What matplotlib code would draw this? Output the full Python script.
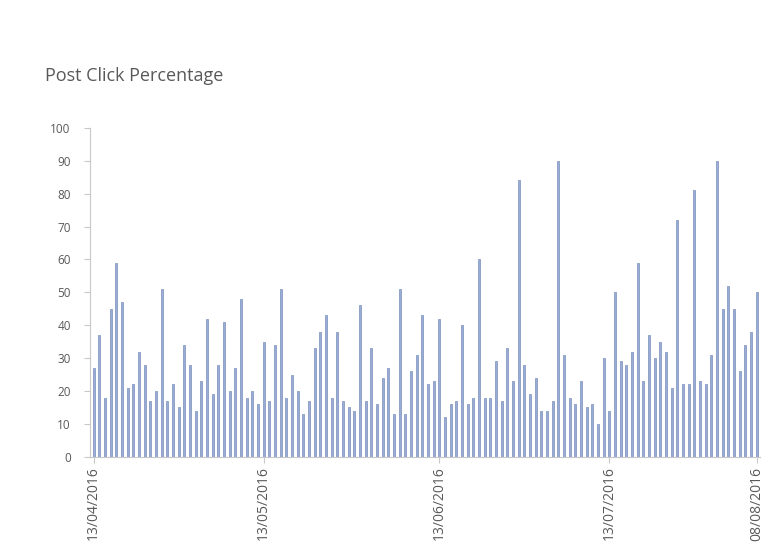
import matplotlib.pyplot as plt
import numpy as np
import pandas as pd

# daily post click percentage, 13/04/2016 .. 08/08/2016
start_date = "2016-04-13"
end_date = "2016-08-08"
post_click_pct = [
    27, 37, 18, 45, 59, 47, 21, 22, 32, 28,
    17, 20, 51, 17, 22, 15, 34, 28, 14, 23,
    42, 19, 28, 41, 20, 27, 48, 18, 20, 16,
    35, 17, 34, 51, 18, 25, 20, 13, 17, 33,
    38, 43, 18, 38, 17, 15, 14, 46, 17, 33,
    16, 24, 27, 13, 51, 13, 26, 31, 43, 22,
    23, 42, 12, 16, 17, 40, 16, 18, 60, 18,
    18, 29, 17, 33, 23, 84, 28, 19, 24, 14,
    14, 17, 90, 31, 18, 16, 23, 15, 16, 10,
    30, 14, 50, 29, 28, 32, 59, 23, 37, 30,
    35, 32, 21, 72, 22, 22, 81, 23, 22, 31,
    90, 45, 52, 45, 26, 34, 38, 50,
]
tick_dates = ["13/04/2016", "13/05/2016", "13/06/2016", "13/07/2016", "08/08/2016"]

dates = pd.date_range(start_date, end_date, freq="D")
x = np.arange(len(dates))
date_labels = dates.strftime("%d/%m/%Y")
tick_pos = [int(np.where(date_labels == d)[0][0]) for d in tick_dates]

plt.rcParams['font.family'] = ['Open Sans', 'DejaVu Sans']

fig = plt.figure(figsize=(7.64, 5.51), dpi=100)
ax = fig.add_axes([0.118, 0.171, 0.877, 0.597])

ax.bar(x, post_click_pct, width=0.36, color="#97acd6", edgecolor="#7d90bb", linewidth=0.5)

ax.set_xlim(-0.6, len(x) - 0.4)
ax.set_ylim(0, 100)
ax.set_yticks(range(0, 101, 10))
ax.set_xticks(tick_pos)
ax.set_xticklabels(tick_dates, rotation=90, ha="center", va="top")

for side in ["top", "right"]:
    ax.spines[side].set_visible(False)
for side in ["left", "bottom"]:
    ax.spines[side].set_color("#c8c8c8")
    ax.spines[side].set_linewidth(0.8)

ax.tick_params(axis="y", colors="#c8c8c8", labelcolor="#595959", labelsize=8.5, length=4, pad=10)
ax.tick_params(axis="x", colors="#c8c8c8", labelcolor="#595959", labelsize=10, length=4, pad=3)

fig.text(0.059, 0.862, "Post Click Percentage", fontsize=13, color="#595959", ha="left", va="center")

fig.savefig("out.png", dpi=100, facecolor="white")
